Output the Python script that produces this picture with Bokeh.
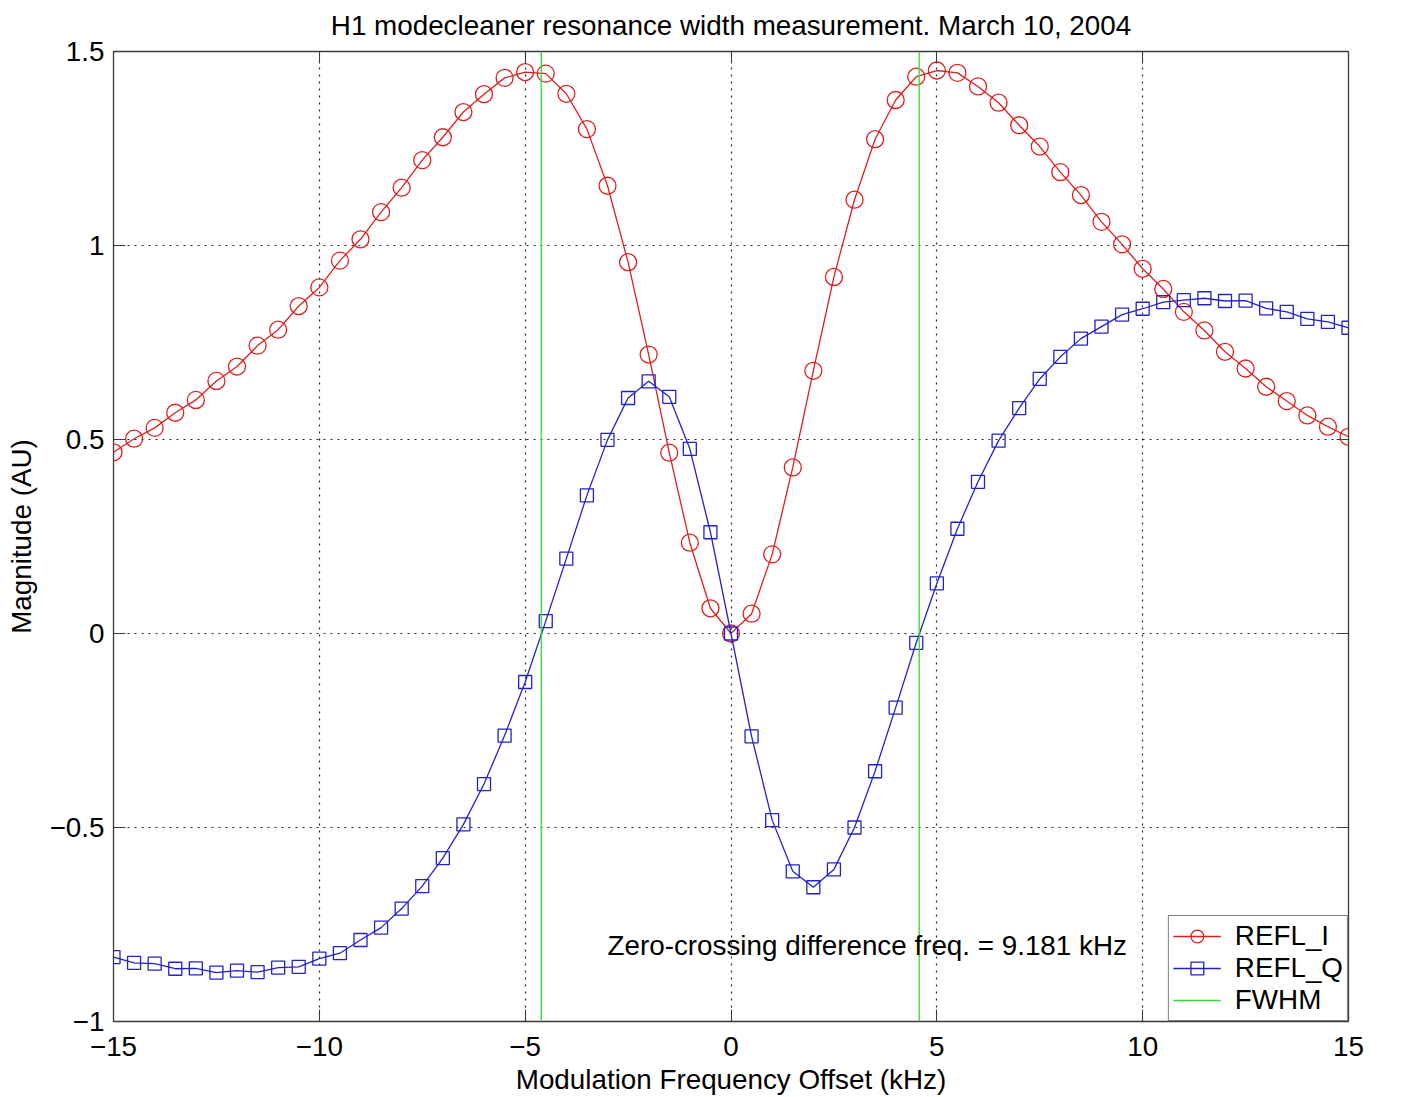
from bokeh.plotting import figure
from bokeh.models import Legend, LegendItem, Label, LinearAxis, FixedTicker, Range1d
from bokeh.embed import file_html
from bokeh.resources import INLINE

# ---------------- data ----------------
freq_khz = [-15.0, -14.5, -14.0, -13.5, -13.0, -12.5, -12.0, -11.5, -11.0, -10.5,
            -10.0, -9.5, -9.0, -8.5, -8.0, -7.5, -7.0, -6.5, -6.0, -5.5,
            -5.0, -4.5, -4.0, -3.5, -3.0, -2.5, -2.0, -1.5, -1.0, -0.5,
            0.0, 0.5, 1.0, 1.5, 2.0, 2.5, 3.0, 3.5, 4.0, 4.5,
            5.0, 5.5, 6.0, 6.5, 7.0, 7.5, 8.0, 8.5, 9.0, 9.5,
            10.0, 10.5, 11.0, 11.5, 12.0, 12.5, 13.0, 13.5, 14.0, 14.5, 15.0]

refl_i = [0.467, 0.502, 0.530, 0.569, 0.602, 0.651, 0.688, 0.742, 0.783, 0.844,
          0.892, 0.961, 1.016, 1.086, 1.149, 1.220, 1.279, 1.344, 1.390, 1.432,
          1.447, 1.443, 1.391, 1.300, 1.154, 0.957, 0.719, 0.466, 0.234, 0.065,
          0.000, 0.051, 0.204, 0.428, 0.677, 0.919, 1.118, 1.274, 1.375, 1.435,
          1.451, 1.445, 1.410, 1.368, 1.310, 1.255, 1.189, 1.130, 1.061, 1.003,
          0.940, 0.888, 0.829, 0.781, 0.726, 0.683, 0.636, 0.599, 0.562, 0.533, 0.507]

refl_q = [-0.834, -0.849, -0.851, -0.864, -0.863, -0.874, -0.869, -0.873, -0.861, -0.859,
          -0.838, -0.824, -0.790, -0.758, -0.709, -0.651, -0.579, -0.492, -0.388, -0.263,
          -0.125, 0.032, 0.193, 0.356, 0.499, 0.607, 0.650, 0.610, 0.476, 0.261,
          0.000, -0.265, -0.481, -0.613, -0.654, -0.608, -0.500, -0.355, -0.191, -0.024,
          0.129, 0.270, 0.391, 0.497, 0.581, 0.656, 0.713, 0.760, 0.791, 0.822,
          0.837, 0.854, 0.859, 0.864, 0.857, 0.858, 0.838, 0.829, 0.811, 0.803, 0.788]

fwhm_khz = [-4.61, 4.571]

x_ticks = [-15, -10, -5, 0, 5, 10, 15]
x_tick_labels = ["\u221215", "\u221210", "\u22125", "0", "5", "10", "15"]
y_ticks = [-1, -0.5, 0, 0.5, 1, 1.5]
y_tick_labels = ["\u22121", "\u22120.5", "0", "0.5", "1", "1.5"]

x_min, x_max = -15, 15
y_min, y_max = -1, 1.5

title_text = "H1 modecleaner resonance width measurement. March 10, 2004"
x_label = "Modulation Frequency Offset (kHz)"
y_label = "Magnitude (AU)"
note_text = "Zero-crossing difference freq. = 9.181 kHz"
series_names = ["REFL_I", "REFL_Q", "FWHM"]

# ---------------- style ----------------
FONT = "Liberation Sans"
FS = "27.8px"
RED = "#dd1f1f"
BLUE = "#2323c4"
GREEN = "#2fdc2f"
AX = "#3a3a3a"

p = figure(width=1414, height=1097, output_backend="svg", toolbar_location=None,
           x_range=Range1d(x_min, x_max), y_range=Range1d(y_min, y_max),
           min_border_left=113, min_border_right=66, min_border_top=51,
           min_border_bottom=73, background_fill_color="white",
           border_fill_color="white")

p.title.text = title_text
p.title.align = "center"
p.title.text_font = FONT
p.title.text_font_size = FS
p.title.text_font_style = "normal"
p.title.text_color = "black"
p.title.text_line_height = 0.7
p.title.vertical_align = "top"
p.title.standoff = 18

p.outline_line_color = AX
p.outline_line_width = 1.3
p.outline_line_alpha = 1

for ax, ticks, labels in ((p.xaxis[0], x_ticks, x_tick_labels),
                          (p.yaxis[0], y_ticks, y_tick_labels)):
    ax.ticker = FixedTicker(ticks=ticks)
    ax.major_label_overrides = {t: l for t, l in zip(ticks, labels)}
    ax.major_label_text_font = FONT
    ax.major_label_text_font_size = FS
    ax.major_label_text_color = "black"
    ax.axis_label_text_font = FONT
    ax.axis_label_text_font_size = FS
    ax.axis_label_text_font_style = "normal"
    ax.axis_label_text_color = "black"
    ax.axis_line_color = None
    ax.major_tick_in = 12
    ax.major_tick_out = 0
    ax.major_tick_line_color = AX
    ax.minor_tick_line_color = None

p.xaxis[0].axis_label = x_label
p.xaxis[0].major_label_standoff = 15
p.xaxis[0].axis_label_standoff = 5
p.yaxis[0].axis_label = y_label
p.yaxis[0].major_label_standoff = 9
p.yaxis[0].axis_label_standoff = 10

for loc, ticks in (("above", x_ticks), ("right", y_ticks)):
    extra = LinearAxis(ticker=FixedTicker(ticks=ticks), major_label_text_font_size="0px",
                       major_label_standoff=0, axis_line_color=None,
                       major_tick_in=12, major_tick_out=0,
                       major_tick_line_color=AX, minor_tick_line_color=None,
                       major_label_overrides={t: "" for t in ticks})
    p.add_layout(extra, loc)

p.xgrid.ticker = FixedTicker(ticks=x_ticks)
p.ygrid.ticker = FixedTicker(ticks=y_ticks)
for g in (p.xgrid, p.ygrid):
    g.grid_line_color = "black"
    g.grid_line_alpha = 0.85
    g.grid_line_dash = "2 5"
    g.grid_line_width = 1.2

# ---------------- glyphs ----------------
i_line = p.line(freq_khz, refl_i, line_color=RED, line_width=1.3)
i_pts = p.scatter(freq_khz, refl_i, marker="circle", size=17, line_color=RED,
                  fill_color=None, line_width=1.3)
q_line = p.line(freq_khz, refl_q, line_color=BLUE, line_width=1.3)
q_pts = p.scatter(freq_khz, refl_q, marker="square", size=13, line_color=BLUE,
                  fill_color=None, line_width=1.3)
fw = p.segment(x0=fwhm_khz, y0=[y_min] * len(fwhm_khz), x1=fwhm_khz,
               y1=[y_max] * len(fwhm_khz), line_color=GREEN, line_width=1.3)

p.add_layout(Label(x=-3.0, y=-0.804, text=note_text, text_font=FONT,
                   text_font_size=FS, text_baseline="middle", text_align="left",
                   text_color="black"))

legend = Legend(items=[LegendItem(label=series_names[0], renderers=[i_line, i_pts]),
                       LegendItem(label=series_names[1], renderers=[q_line, q_pts]),
                       LegendItem(label=series_names[2], renderers=[fw])],
                location="bottom_right", orientation="vertical",
                label_text_font=FONT, label_text_font_size=FS, label_text_color="black",
                label_height=32, glyph_height=32, glyph_width=48, label_standoff=14,
                spacing=0, padding=4, margin=0,
                border_line_color="black", border_line_width=1.2,
                background_fill_color="white", background_fill_alpha=1)
p.add_layout(legend, "center")

open("out.html", "w").write(file_html(p, INLINE))
